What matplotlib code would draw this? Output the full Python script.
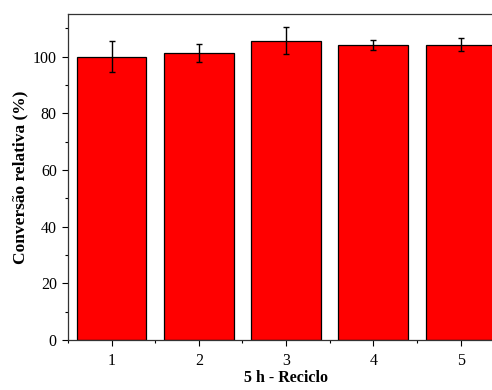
#!/usr/bin/env python3

import numpy as np
import matplotlib
matplotlib.use('Agg')
import matplotlib.pyplot as plt
from matplotlib.ticker import MultipleLocator

cycles = [1, 2, 3, 4, 5]
conversion = [100.0, 101.4, 105.6, 104.1, 104.2]
error = [5.4, 3.2, 4.7, 1.9, 2.2]


def main():
    plt.rcParams['font.family'] = ['Liberation Serif', 'DejaVu Serif']
    plt.rcParams['font.size'] = 11

    fig = plt.figure(figsize=(4.92, 3.9), dpi=100)
    # axes run past the right edge of the picture, as in the reference
    ax = fig.add_axes([0.138, 0.128, 0.887, 0.836])

    ax.bar(cycles, conversion, width=0.8, color='#ff0000',
           edgecolor='black', linewidth=0.9,
           yerr=error, capsize=2.5,
           error_kw=dict(ecolor='black', elinewidth=1, capthick=1))

    ax.set_xlim(0.5, 5.5)
    ax.set_ylim(0, 115)
    ax.set_xticks(cycles)
    ax.xaxis.set_minor_locator(MultipleLocator(0.5))
    ax.yaxis.set_major_locator(MultipleLocator(20))
    ax.yaxis.set_minor_locator(MultipleLocator(10))
    ax.tick_params(which='major', direction='out', length=4, width=0.8,
                   labelsize=11.5, pad=4)
    ax.tick_params(axis='x', which='major', pad=5)
    ax.tick_params(which='minor', direction='out', length=2.5, width=0.8)
    for side in ax.spines.values():
        side.set_linewidth(0.9)
        side.set_color('#333333')

    ax.set_xlabel('5 h - Reciclo', fontweight='bold', fontsize=11.5,
                  labelpad=1)
    ax.set_ylabel('Conversão relativa (%)', fontweight='bold', fontsize=12.5,
                  labelpad=3)

    fig.savefig('out.png', dpi=100)


if __name__ == "__main__":
    main()
